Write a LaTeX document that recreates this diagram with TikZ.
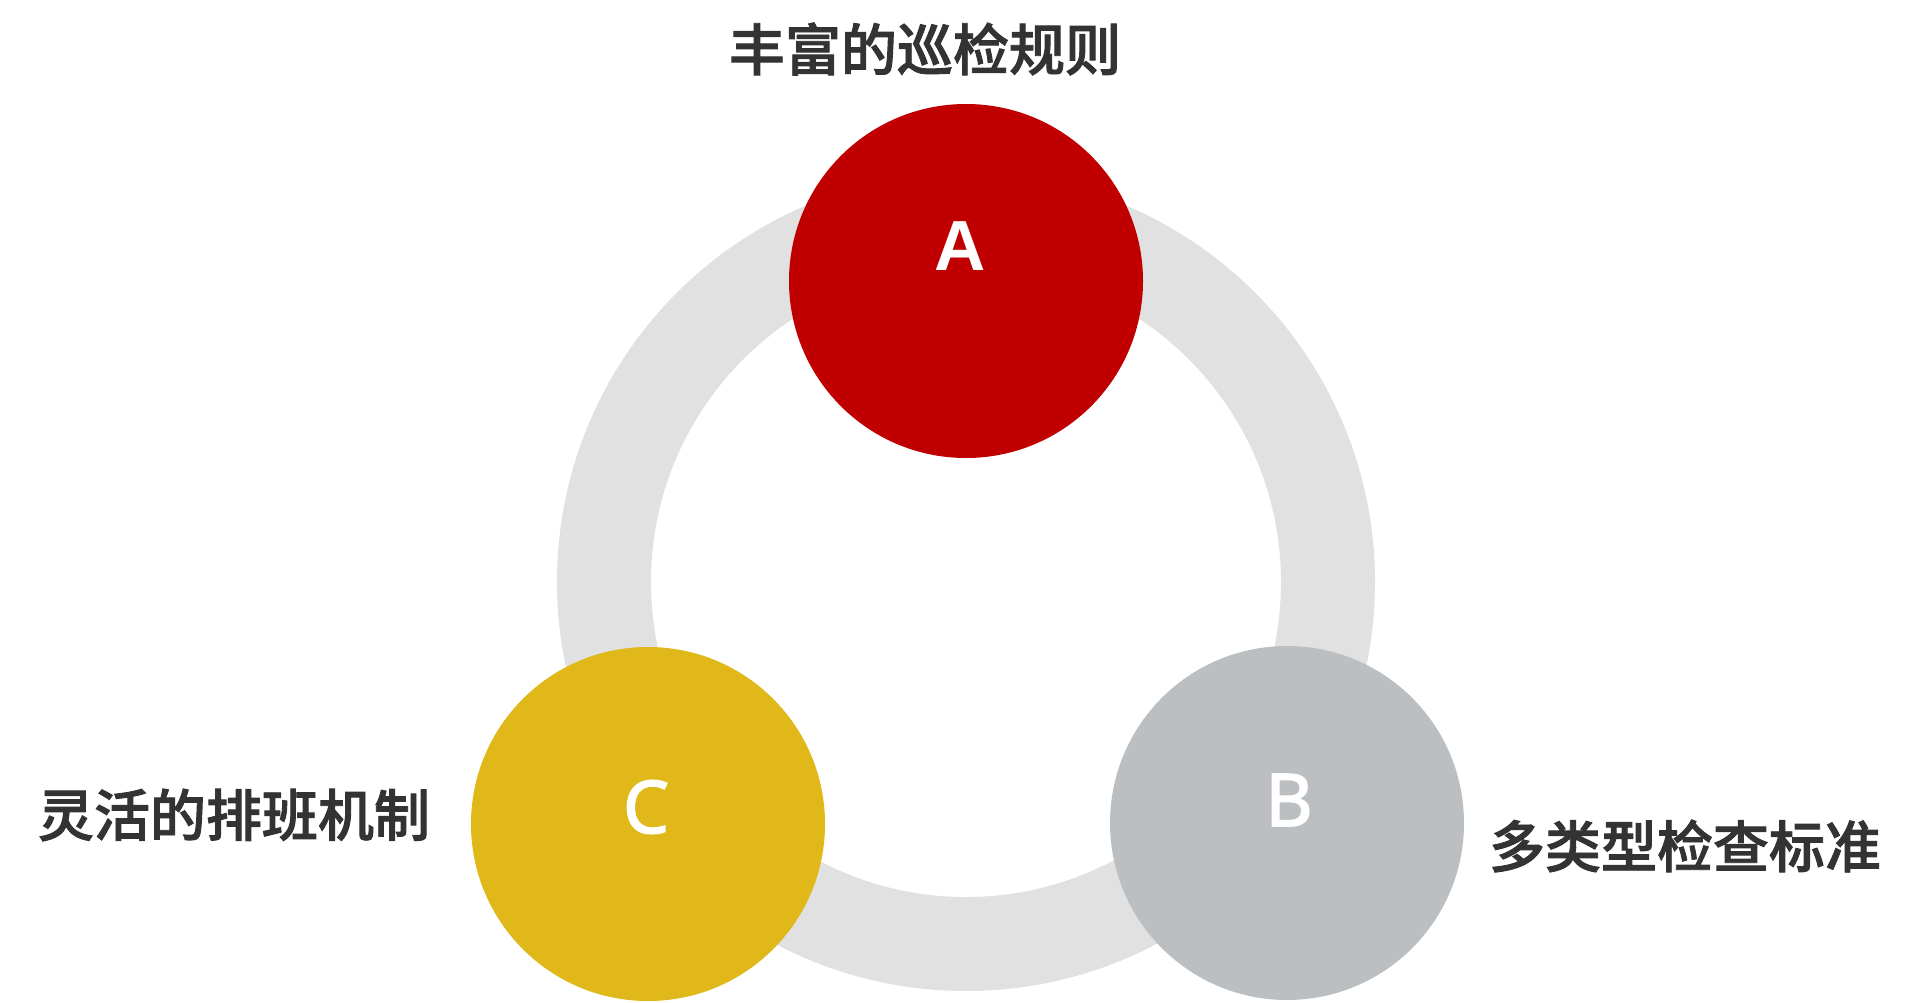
\documentclass[tikz,border=0pt]{standalone}
\usepackage{fontspec}
\newfontfamily\cjk[FakeBold=1.6]{Noto Sans CJK SC Medium}
\newfontfamily\arialfont{Liberation Sans Bold}
\newfontfamily\notofont[FakeBold=2]{Noto Sans}
\definecolor{ringgray}{HTML}{E1E1E1}
\definecolor{cred}{HTML}{C00000}
\definecolor{cgold}{HTML}{E1B81A}
\definecolor{cgray}{HTML}{BBBFC1}
\definecolor{txt}{HTML}{333333}
\begin{document}
\begin{tikzpicture}[x=1pt,y=-1pt,
  bigdot/.style={circle,minimum size=354pt,inner sep=0pt,draw=none},
  letter/.style={text=white,inner sep=0pt},
  label/.style={text=txt,inner sep=0pt,font=\cjk\fontsize{56pt}{60pt}\selectfont}]
\useasboundingbox (0,0) rectangle (1920,1002);
\coordinate (ringc) at (966,582);
\draw[ringgray,line width=94pt] (ringc) circle[radius=362pt];
\node[bigdot,fill=cred] (A) at (966,281) {};
\node[bigdot,fill=cgray] (B) at (1287,823) {};
\node[bigdot,fill=cgold] (C) at (648,824) {};
\node[letter,font=\arialfont\fontsize{71pt}{75pt}\selectfont] (la) at (960,246) {A};
\node[letter,font=\notofont\fontsize{73pt}{77pt}\selectfont] (lb) at (1289,800) {B};
\node[letter,font=\notofont\fontsize{73pt}{77pt}\selectfont] (lc) at (646,807) {C};
\node[label] (ta) at (925,49) {丰富的巡检规则};
\node[label] (tb) at (1685,846) {多类型检查标准};
\node[label] (tc) at (234,815) {灵活的排班机制};
\end{tikzpicture}
\end{document}
